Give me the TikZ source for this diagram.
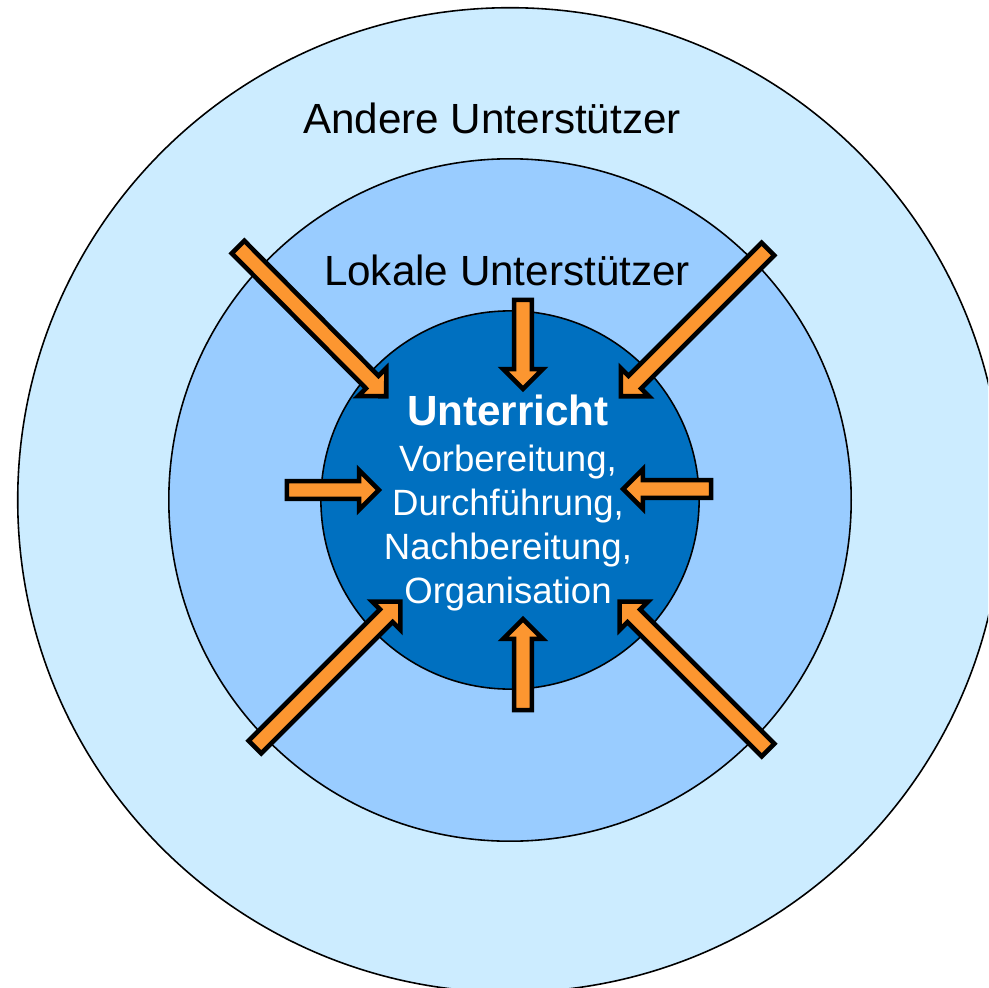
\documentclass[tikz,border=0pt]{standalone}
\usepackage{fontspec}
\setmainfont{Liberation Sans}
\usetikzlibrary{calc}
\usetikzlibrary{shapes.arrows}
\definecolor{ringaussen}{RGB}{204,236,255}
\definecolor{ringmitte}{RGB}{153,204,255}
\definecolor{ringkern}{RGB}{0,112,192}
\definecolor{pfeilorange}{RGB}{252,150,48}
\tikzset{
  ring/.style={circle, draw=black, line width=0.45pt, inner sep=0pt},
  pfeil/.style={single arrow, draw=black, fill=pfeilorange, line width=1.3pt, inner xsep=0pt, inner ysep=0.066cm,
    minimum width=0.35cm, single arrow head extend=0.11cm, single arrow tip angle=90}
}

\begin{document}
\begin{tikzpicture}[x=0.01cm, y=-0.01cm]
  \clip (0,0) rectangle (988,988);

  \node [ring, fill=ringaussen, minimum size=9.84cm] (aussen) at (510,500) {};
  \node [ring, fill=ringmitte, minimum size=6.82cm] (mitte) at (510,500) {};
  \node [ring, fill=ringkern, minimum size=3.78cm] (kern) at (510,500) {};

  \node [anchor=base, font=\fontsize{12}{14}\selectfont] (andere) at (492,134) {Andere Unterstützer};
  \node [anchor=base, font=\fontsize{12}{14}\selectfont] (lokale) at (507,285) {Lokale Unterstützer};
  \node [anchor=base, align=center, text=white, font=\fontsize{10.4}{12.5}\selectfont] (unterricht) at (508,603)
    {{\fontsize{12}{14}\selectfont\bfseries Unterricht}\\[0.6pt] Vorbereitung,\\ Durchführung,\\ Nachbereitung,\\ Organisation};

  % Pfeile von aussen zum Kern
  \foreach \pf/\xa/\ya/\xb/\yb in {tl/233/242/385/395, tr/773/244/622/395, bl/250/752/399/603, br/773/755/621/603,
                                     o/523/293/523/387, u/523/717/523/621, l/280/490/377/490, r/718/489/625/489} {
    \coordinate (\pf-ende) at (\xa,\ya);
    \coordinate (\pf-spitze) at (\xb,\yb);
    \path let \p1 = ($(\pf-spitze)-(\pf-ende)$), \n1 = {veclen(\x1,\y1)} in
      (\pf-ende) -- (\pf-spitze) node [pfeil, midway, sloped, allow upside down, minimum height=\n1-0.05cm] (\pf-pfeil) {};
  }
\end{tikzpicture}
\end{document}
